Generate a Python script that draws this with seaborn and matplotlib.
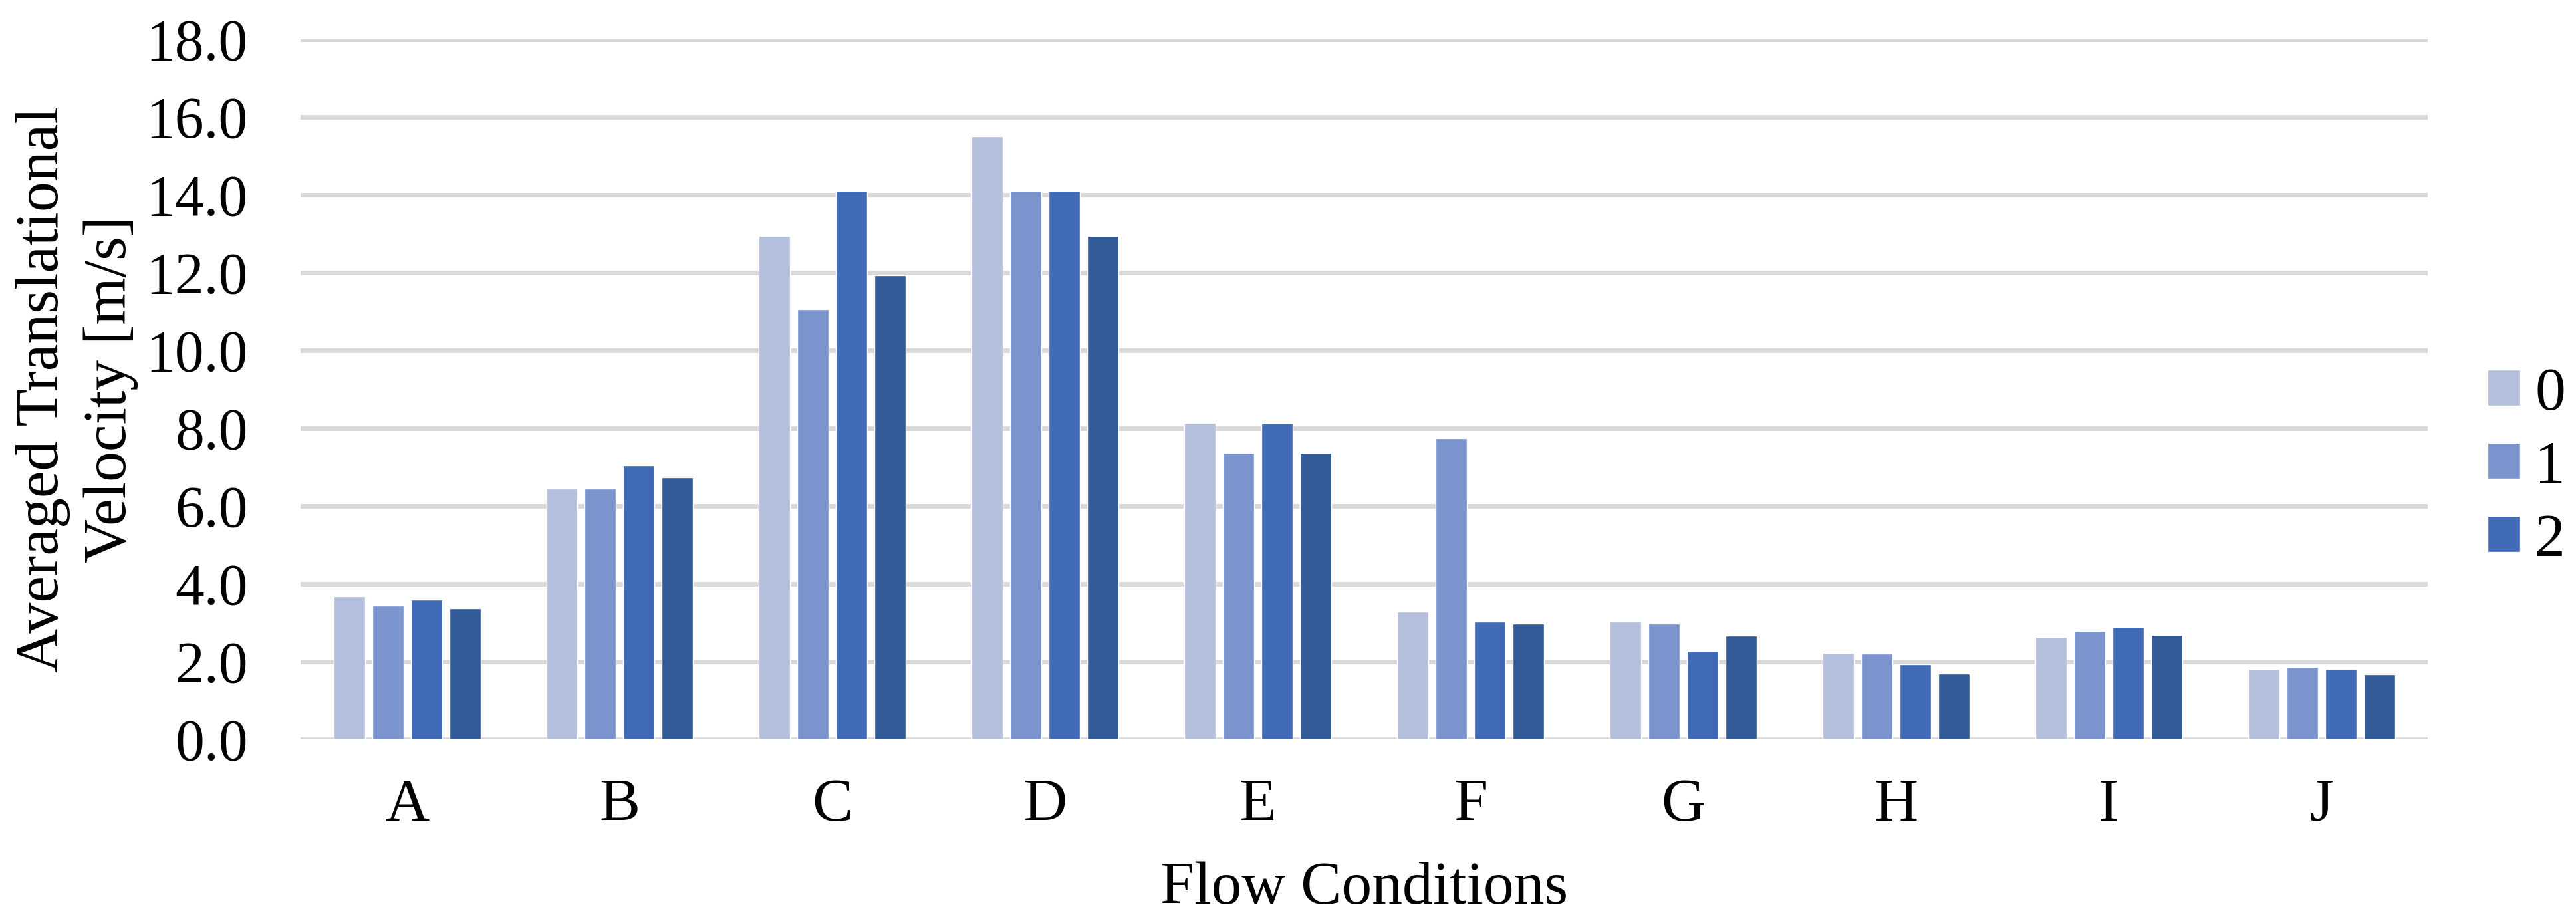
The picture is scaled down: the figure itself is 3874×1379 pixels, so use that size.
import matplotlib
matplotlib.use("Agg")
import matplotlib.pyplot as plt
import seaborn as sns
import pandas as pd

conditions = ["A", "B", "C", "D", "E", "F", "G", "H", "I", "J"]
series_names = ["0", "1", "2", "3"]
s0 = [3.68, 6.44, 12.94, 15.51, 8.14, 3.29, 3.02, 2.23, 2.63, 1.81]
s1 = [3.44, 6.44, 11.06, 14.10, 7.37, 7.74, 2.97, 2.20, 2.78, 1.87]
s2 = [3.59, 7.04, 14.10, 14.10, 8.14, 3.02, 2.27, 1.93, 2.89, 1.81]
s3 = [3.36, 6.74, 11.94, 12.94, 7.37, 2.97, 2.66, 1.70, 2.68, 1.67]
y_ticks = [0, 2, 4, 6, 8, 10, 12, 14, 16, 18]

colors = ["#B4BEDD", "#7B94CE", "#416BB6", "#335A99"]

rows = []
for name, vals in zip(series_names, [s0, s1, s2, s3]):
    for c, v in zip(conditions, vals):
        rows.append({"cond": c, "series": name, "value": v})
df = pd.DataFrame(rows)

sns.set_theme(style="white")
plt.rcParams["font.family"] = ["Liberation Serif", "DejaVu Serif"]
plt.rcParams["text.color"] = "black"
plt.rcParams["axes.labelcolor"] = "black"
plt.rcParams["xtick.color"] = "black"
plt.rcParams["ytick.color"] = "black"

FS_TICK = 63
FS = 66
fig = plt.figure(figsize=(38.74, 13.79), dpi=100)
ax = fig.add_axes([0.1167, 0.1936, 0.8258, 0.7636])

sns.barplot(data=df, x="cond", y="value", hue="series", order=conditions,
            hue_order=series_names, palette=colors, width=0.725, gap=0.19,
            saturation=1, errorbar=None, ax=ax, zorder=3)

ax.set_ylim(0, 18)
ax.set_xlim(-0.5, 9.5)
ax.set_yticks(y_ticks)
ax.set_yticklabels([f"{t:.1f}" for t in y_ticks], fontsize=FS_TICK)
ax.tick_params(axis="x", labelsize=FS, length=0, pad=42)
ax.tick_params(axis="y", length=0, pad=57)
ax.yaxis.grid(True, color="#D9D9D9", linewidth=5, zorder=0)
ax.set_axisbelow(True)
for sp in ax.spines.values():
    sp.set_visible(False)

ax.set_xlabel("Flow Conditions", fontsize=FS, labelpad=31)
ax.set_ylabel("Averaged Translational\nVelocity [m/s]", fontsize=FS,
              linespacing=1.32)
ax.yaxis.set_label_coords(-0.0762, 0.5)

handles, labels = ax.get_legend_handles_labels()
ax.legend(handles[:3], labels[:3], loc="center left",
          bbox_to_anchor=(3741 / 3874, 0.49), bbox_transform=fig.transFigure,
          frameon=False, fontsize=FS, handlelength=0.53, handleheight=0.53,
          handletextpad=0.25, labelspacing=0.3, borderaxespad=0, borderpad=0)

fig.savefig("out.png", dpi=100)
